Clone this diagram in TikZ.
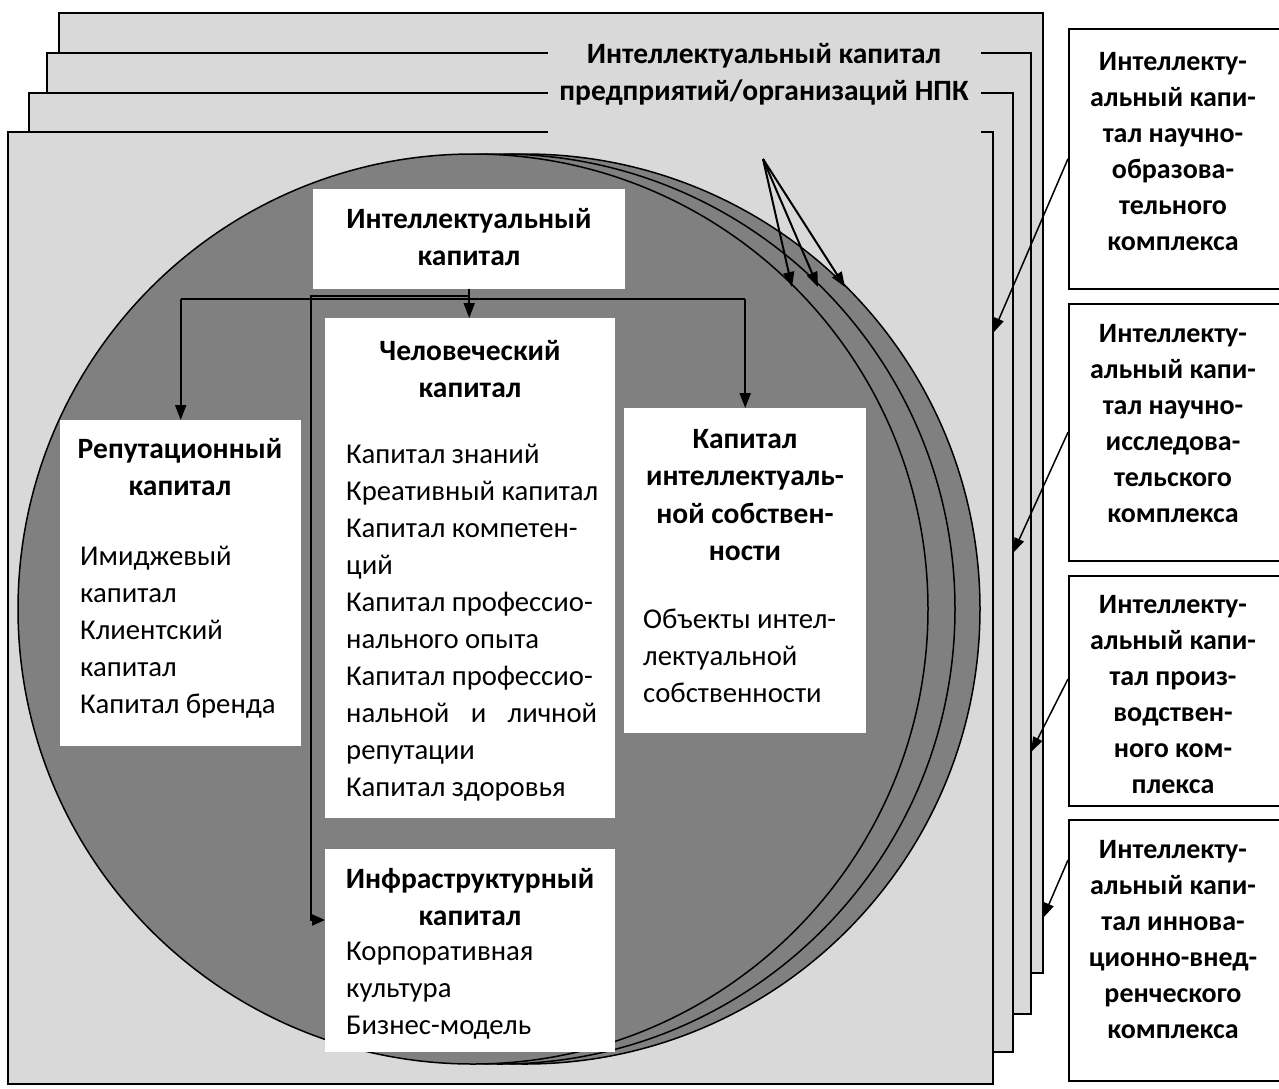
\documentclass[tikz,border=0pt]{standalone}
\usepackage{fontspec}
\setmainfont{Carlito}
\usetikzlibrary{arrows.meta,calc}
\definecolor{layergray}{HTML}{D9D9D9}
\definecolor{discgray}{HTML}{808080}
\newcommand\fsz{\fontsize{28.7}{37}\selectfont}
\newcommand\fszh{\fontsize{29.5}{37.5}\selectfont}
\newcommand\fszr{\fontsize{28}{36}\selectfont}
\newcommand\tstrut{\rule{0pt}{24pt}}
\begin{document}
\begin{tikzpicture}[x=1pt,y=-1pt,
 layer/.style={draw=black,line width=1.5pt,fill=layergray},
 disc/.style={draw=black,line width=1.5pt,fill=discgray},
 wbox/.style={fill=white,draw=none,inner sep=0pt,anchor=north west},
 sbox/.style={fill=white,draw=black,line width=1.5pt,inner sep=0pt,anchor=north west},
 head/.style={font=\fszh\bfseries,align=center,anchor=north,inner sep=0pt},
 rhead/.style={font=\fszr\bfseries,align=center,anchor=north,inner sep=0pt},
 body/.style={font=\fsz,align=left,anchor=north west,inner sep=0pt},
 conn/.style={line width=2pt,-{Triangle[length=15pt,width=11pt]}},
 sideconn/.style={line width=1.5pt,-{Triangle[length=15pt,width=10pt]}},
]
\useasboundingbox (0,0) rectangle (1279,1088);
\fill[white] (0,0) rectangle (1279,1088);
% stacked layers
\draw[layer] (59,13) rectangle (1043,973);
\draw[layer] (47,53) rectangle (1031,1014);
\draw[layer] (29,93) rectangle (1013,1052);
\draw[layer] (8,132) rectangle (993,1084);
\fill[layergray] (548,28) rectangle (981,150);
% discs
\draw[disc] (525,609) circle[radius=455];
\draw[disc] (500,609) circle[radius=455];
\draw[disc] (473,609) circle[radius=455];
% white boxes
\node[wbox,minimum width=312pt,minimum height=100pt] (ic) at (313,189) {};
\node[wbox,minimum width=241pt,minimum height=326pt] (rep) at (60,420) {};
\node[wbox,minimum width=290pt,minimum height=500pt] (hum) at (325,318) {};
\node[wbox,minimum width=242pt,minimum height=325pt] (ip) at (624,408) {};
\node[wbox,minimum width=290pt,minimum height=203pt] (inf) at (325,849) {};
% texts in boxes
\node[head] (icT) at (469,204) {\tstrut Интеллектуальный\\капитал};
\node[head] (repT) at (180,434) {\tstrut Репутационный\\капитал};
\node[body] (repB) at (80,541) {\tstrut Имиджевый\\капитал\\Клиентский\\капитал\\Капитал бренда};
\node[head] (humT) at (470,336) {\tstrut Человеческий\\капитал};
\node[body] (humB) at (346,439) {\tstrut Капитал знаний\\Креативный капитал\\Капитал компетен-\\ций\\Капитал профессио-\\нального опыта\\Капитал профессио-\\\hbox to 251pt{нальной\hfill и\hfill личной}\\репутации\\Капитал здоровья};
\node[head] (ipT) at (745,424) {\tstrut Капитал\\интеллектуаль-\\ной собствен-\\ности};
\node[body] (ipB) at (643,604) {\tstrut Объекты интел-\\лектуальной\\собственности};
\node[head] (infT) at (470,864) {\tstrut Инфраструктурный\\капитал};
\node[body] (infB) at (346,936) {\tstrut Корпоративная\\культура\\Бизнес-модель};
% connectors
\coordinate (busL) at (181,299);
\coordinate (busR) at (745,299);
\coordinate (infTop) at (311,296);
\coordinate (infArr) at (325,920);
\draw[line width=2pt] (busL) -- (busR);
\draw[conn] (rep.north |- busL) -- (rep.north);
\draw[conn] (ip.north |- busR) -- (ip.north);
\draw[conn] (ic.south) -- (ic.south |- hum.north);
\draw[line width=2pt,-{Triangle[length=13pt,width=11pt]}] (ic.south |- infTop) -- (infTop) |- (infArr);
% title
\node[head] (title) at (764,39) {\tstrut Интеллектуальный капитал\\предприятий/организаций НПК};
\coordinate (src) at (763,159);
\coordinate (t1) at (792,287);
\coordinate (t2) at (818,287);
\coordinate (t3) at (845,287);
\draw[conn] (src) -- (t1);
\draw[conn] (src) -- (t2);
\draw[conn] (src) -- (t3);
% side boxes
\node[sbox,minimum width=212pt,minimum height=260pt] (b1) at (1068,28) {};
\node[sbox,minimum width=212pt,minimum height=257pt] (b2) at (1068,303) {};
\node[sbox,minimum width=212pt,minimum height=230pt] (b3) at (1068,575) {};
\node[sbox,minimum width=212pt,minimum height=261pt] (b4) at (1068,819) {};
\node[rhead] (b1T) at (1173,46) {\tstrut Интеллекту-\\альный капи-\\тал научно-\\образова-\\тельного\\комплекса};
\node[rhead] (b2T) at (1173,318) {\tstrut Интеллекту-\\альный капи-\\тал научно-\\исследова-\\тельского\\комплекса};
\node[rhead] (b3T) at (1173,589) {\tstrut Интеллекту-\\альный капи-\\тал произ-\\водствен-\\ного ком-\\плекса};
\node[rhead] (b4T) at (1173,834) {\tstrut Интеллекту-\\альный капи-\\тал иннова-\\ционно-внед-\\ренческого\\комплекса};
\coordinate (a1) at (993,333);
\coordinate (a2) at (1013,553);
\coordinate (a3) at (1031,752);
\coordinate (a4) at (1043,918);
\draw[sideconn] (b1.west) -- (a1);
\draw[sideconn] (b2.west) -- (a2);
\draw[sideconn] ($(b3.north west)+(0,104)$) -- (a3);
\draw[sideconn] ($(b4.north west)+(0,41)$) -- (a4);
\end{tikzpicture}
\end{document}
